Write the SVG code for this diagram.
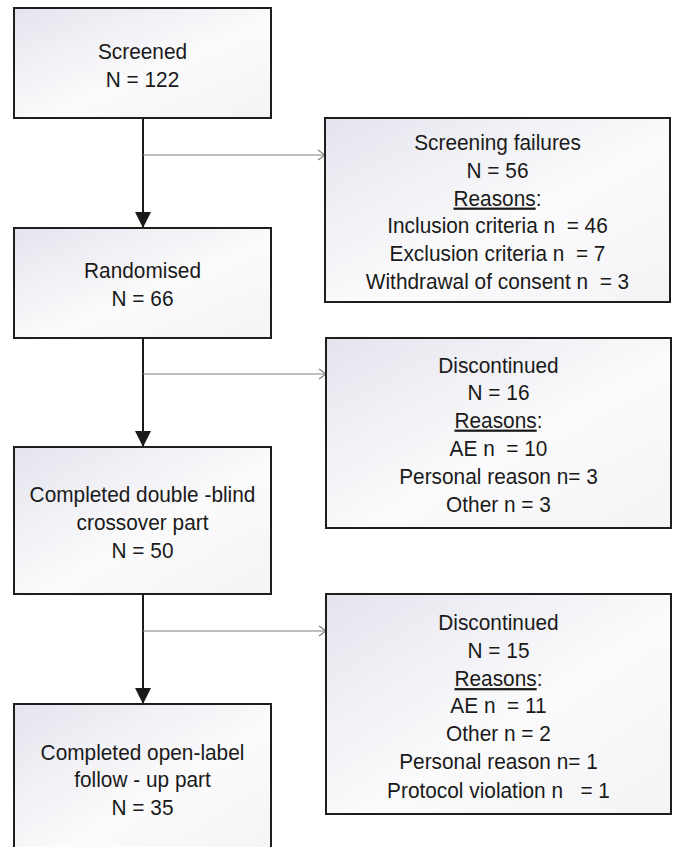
<svg xmlns="http://www.w3.org/2000/svg" width="675" height="847" viewBox="0 0 675 847">
<style>
.box{fill:url(#g);stroke:#1e1e1e;stroke-width:2}
.t{font-family:"Liberation Sans",Arial,sans-serif;font-size:22.4px;fill:#1a1a1a;text-anchor:middle;white-space:pre}
.main{stroke:#1a1a1a;stroke-width:2;fill:none}
.side{stroke:#808080;stroke-width:1.2;fill:none}
.u{text-decoration:underline}
</style>
<defs>
<linearGradient id="g" x1="0" y1="0" x2="1" y2="1">
<stop offset="0" stop-color="#e4e4ee"/>
<stop offset="0.55" stop-color="#fbfbfc"/>
<stop offset="1" stop-color="#f4f4f7"/>
</linearGradient>
<marker id="ah" markerWidth="16" markerHeight="16" refX="16" refY="8" orient="auto" markerUnits="userSpaceOnUse">
<path d="M0,0 L16,8 L0,16 Z" fill="#1a1a1a"/>
</marker>
<marker id="oh" markerWidth="10" markerHeight="12" refX="8" refY="6" orient="auto" markerUnits="userSpaceOnUse">
<path d="M1,1 L8,6 L1,11" fill="none" stroke="#808080" stroke-width="1.2"/>
</marker>
</defs>
<g id="connectors">
<line class="main" x1="143" y1="118" x2="143" y2="228" marker-end="url(#ah)"/>
<line class="main" x1="143" y1="338" x2="143" y2="447" marker-end="url(#ah)"/>
<line class="main" x1="143" y1="594" x2="143" y2="704" marker-end="url(#ah)"/>
<line class="side" x1="143" y1="155" x2="325" y2="155" marker-end="url(#oh)"/>
<line class="side" x1="143" y1="374" x2="326" y2="374" marker-end="url(#oh)"/>
<line class="side" x1="143" y1="631" x2="326" y2="631" marker-end="url(#oh)"/>
</g>
<g id="screened">
<rect class="box" x="14" y="8" width="257" height="110"/>
<text class="t" transform="translate(142.5,59) scale(0.93,1)">Screened</text>
<text class="t" transform="translate(142.5,86.5) scale(0.93,1)">N = 122</text>
</g>
<g id="screening-failures">
<rect class="box" x="325" y="118" width="345" height="184"/>
<text class="t" transform="translate(497.5,150) scale(0.93,1)">Screening failures</text>
<text class="t" transform="translate(497.5,177.5) scale(0.93,1)">N = 56</text>
<text class="t" transform="translate(497.5,205.5) scale(0.93,1)"><tspan class="u">Reasons</tspan>:</text>
<text class="t" transform="translate(497.5,233) scale(0.93,1)">Inclusion criteria n  = 46</text>
<text class="t" transform="translate(497.5,261) scale(0.93,1)">Exclusion criteria n  = 7</text>
<text class="t" transform="translate(497.5,288.5) scale(0.93,1)">Withdrawal of consent n  = 3</text>
</g>
<g id="randomised">
<rect class="box" x="14" y="228" width="257" height="110"/>
<text class="t" transform="translate(142.5,278) scale(0.93,1)">Randomised</text>
<text class="t" transform="translate(142.5,306) scale(0.93,1)">N = 66</text>
</g>
<g id="discontinued-1">
<rect class="box" x="326" y="338" width="345" height="190"/>
<text class="t" transform="translate(498.5,372.5) scale(0.93,1)">Discontinued</text>
<text class="t" transform="translate(498.5,400) scale(0.93,1)">N = 16</text>
<text class="t" transform="translate(498.5,427.5) scale(0.93,1)"><tspan class="u">Reasons</tspan>:</text>
<text class="t" transform="translate(498.5,455.5) scale(0.93,1)">AE n  = 10</text>
<text class="t" transform="translate(498.5,484) scale(0.93,1)">Personal reason n= 3</text>
<text class="t" transform="translate(498.5,511.5) scale(0.93,1)">Other n = 3</text>
</g>
<g id="double-blind">
<rect class="box" x="14" y="447" width="257" height="147"/>
<text class="t" transform="translate(142.5,502) scale(0.93,1)">Completed double -blind</text>
<text class="t" transform="translate(142.5,529.5) scale(0.93,1)">crossover part</text>
<text class="t" transform="translate(142.5,557.5) scale(0.93,1)">N = 50</text>
</g>
<g id="discontinued-2">
<rect class="box" x="326" y="594" width="345" height="220"/>
<text class="t" transform="translate(498.5,630) scale(0.93,1)">Discontinued</text>
<text class="t" transform="translate(498.5,657.5) scale(0.93,1)">N = 15</text>
<text class="t" transform="translate(498.5,686) scale(0.93,1)"><tspan class="u">Reasons</tspan>:</text>
<text class="t" transform="translate(498.5,713) scale(0.93,1)">AE n  = 11</text>
<text class="t" transform="translate(498.5,741) scale(0.93,1)">Other n = 2</text>
<text class="t" transform="translate(498.5,769) scale(0.93,1)">Personal reason n= 1</text>
<text class="t" transform="translate(498.5,797.5) scale(0.93,1)">Protocol violation n   = 1</text>
</g>
<g id="open-label">
<rect class="box" x="14" y="704" width="257" height="160"/>
<text class="t" transform="translate(142.5,759.5) scale(0.93,1)">Completed open-label</text>
<text class="t" transform="translate(142.5,786.5) scale(0.93,1)">follow - up part</text>
<text class="t" transform="translate(142.5,814.5) scale(0.93,1)">N = 35</text>
</g>
</svg>
